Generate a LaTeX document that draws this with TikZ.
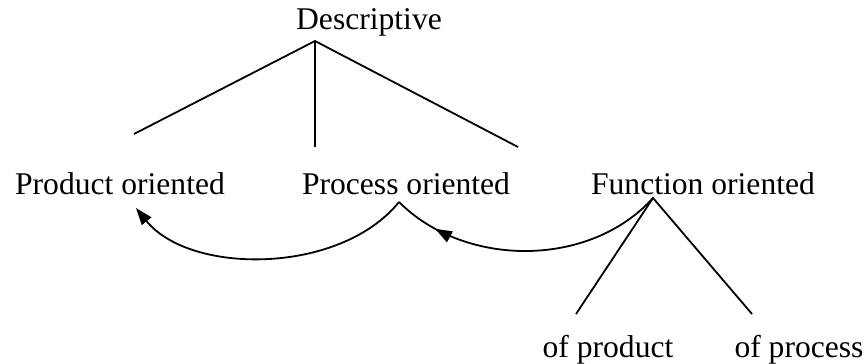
\documentclass[tikz,border=0pt]{standalone}
\usepackage{fontspec}
\setmainfont{Liberation Serif}
\usetikzlibrary{arrows.meta,decorations.markings}
\begin{document}
\begin{tikzpicture}[x=0.5pt,y=-0.5pt,
  lbl/.style={anchor=base,inner sep=0pt,font=\fontsize{15.8pt}{18pt}\selectfont},
  conn/.style={line width=0.9pt},
  tip/.style={-{Triangle[length=8.5pt,width=6pt]}},
  midtip/.style={postaction={decorate},decoration={markings,
     mark=at position 0.84 with {\arrow{Triangle[length=8.5pt,width=6pt]}}}}]
\useasboundingbox (0,0) rectangle (868,364);
% text nodes
\node[lbl] (desc) at (369,29) {Descriptive};
\node[lbl] (prod) at (120,194) {Product oriented};
\node[lbl] (proc) at (406,194) {Process oriented};
\node[lbl] (func) at (703,194) {Function oriented};
\node[lbl] (ofprod) at (608,357) {of product};
\node[lbl] (ofproc) at (799,357) {of process};
% connector points
\coordinate (dtop) at (315,41);
\coordinate (dl) at (134,134);
\coordinate (dm) at (315,147);
\coordinate (dr) at (518,147);
\coordinate (fa) at (653,198);
\coordinate (fl) at (576,314);
\coordinate (fr) at (752,314);
\coordinate (ps) at (399,202);
\coordinate (pt) at (136,208);
% tree lines
\draw[conn] (dl) -- (dtop) -- (dr);
\draw[conn] (dtop) -- (dm);
\draw[conn] (fl) -- (fa) -- (fr);
% curved arrows
\draw[conn,tip] (ps) .. controls (340,275) and (190,275) .. (pt);
\draw[conn,midtip] (fa) .. controls (590,268) and (465,268) .. (ps);
\end{tikzpicture}
\end{document}
